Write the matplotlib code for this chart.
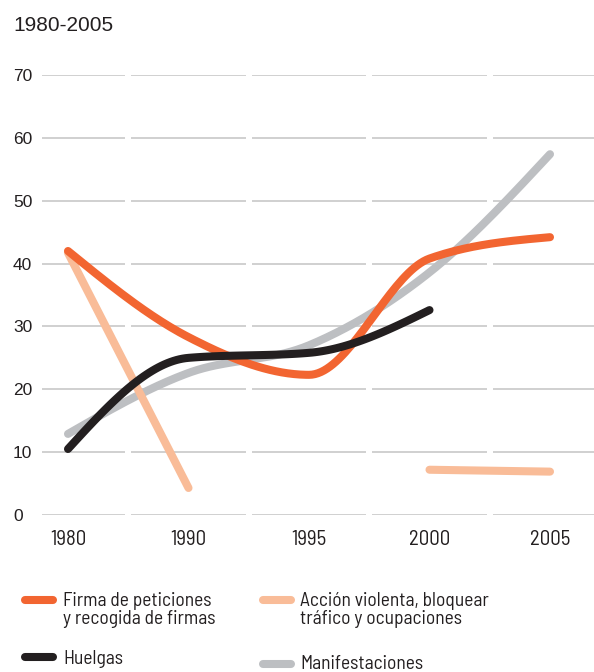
import numpy as np
import matplotlib
matplotlib.use("Agg")
import matplotlib.pyplot as plt
from matplotlib import font_manager
from matplotlib.font_manager import FontProperties
from matplotlib.lines import Line2D

# ---------------- data ----------------
years = ["1980", "1990", "1995", "2000", "2005"]
firma = [42.0, 28.3, 22.3, 40.8, 44.2]
huelgas = [10.5, 25.0, 25.8, 32.6, np.nan]
accion = [41.7, 4.3, np.nan, 7.2, 6.9]
manifestaciones = [12.9, 22.6, 27.0, 38.6, 57.4]
yticks = [0, 10, 20, 30, 40, 50, 60, 70]
title = "1980-2005"
legend_labels = ["Firma de peticiones\ny recogida de firmas", "Huelgas",
                 "Acción violenta, bloquear\ntráfico y ocupaciones", "Manifestaciones"]

# ---------------- style ----------------
C_ORANGE = "#F26531"
C_BLACK = "#231F20"
C_PEACH = "#F9BC98"
C_GRAY = "#BDBFC2"
C_GRID = "#C8C8C8"
C_TEXT = "#231F20"

names = {f.name for f in font_manager.fontManager.ttflist}
REG = "Liberation Sans" if "Liberation Sans" in names else "DejaVu Sans"


def find_condensed():
    cands = []
    for f in font_manager.fontManager.ttflist:
        nm = f.name
        is_narrow = ("Narrow" in nm or "Condensed" in nm or
                     str(f.stretch) in ("condensed", "semi-condensed", "extra-condensed"))
        if not is_narrow:
            continue
        if f.style != "normal":
            continue
        w = f.weight
        if isinstance(w, str):
            w = {"normal": 400, "regular": 400, "book": 400}.get(w.lower(), 700)
        if w != 400:
            continue
        low = f.fname.lower()
        if any(k in low for k in ("bold", "light", "thin", "black", "medium", "italic", "extra", "semibold")):
            continue
        if "Liberation Sans Narrow" in nm:
            score = 5
        elif "semi" in str(f.stretch).lower() or "semicondensed" in low:
            score = 4
        elif "Roboto Condensed" in nm:
            score = 3
        else:
            score = 2
        cands.append((score, f.fname))
    if not cands:
        return None
    cands.sort(key=lambda t: -t[0])
    return cands[0][1]


cond_path = find_condensed()
if cond_path:
    def narrow(size):
        return FontProperties(fname=cond_path, size=size)
    XT_SIZE, LEG_SIZE = 15, 14
else:
    def narrow(size):
        return FontProperties(family="Roboto", size=size)
    XT_SIZE, LEG_SIZE = 12.5, 12.3

W, H = 594, 672
fig = plt.figure(figsize=(W / 100, H / 100), dpi=100)
fig.patch.set_facecolor("white")


def fx(px):
    return px / W


def fy(py):
    return (H - py) / H


ax_left, ax_right, ax_top, ax_bottom = 42, 594, 75, 515
ax = fig.add_axes([fx(ax_left), fy(ax_bottom), (ax_right - ax_left) / W, (ax_bottom - ax_top) / H])
ax.set_facecolor("none")
for s in ax.spines.values():
    s.set_visible(False)

# x scale: category index 0 at px 68, 1 category = 120.5 px
x0_px, step_px = 68, 120.5
ax.set_xlim((ax_left - x0_px) / step_px, (ax_right - x0_px) / step_px)
ax.set_ylim(0, 70)

xs = np.arange(len(years))

# segmented gridlines (gaps between categories)
xmin, xmax = ax.get_xlim()
gap = 0.025
bounds = [xmin] + [i + 0.5 for i in range(len(years) - 1)] + [xmax]
for yv in yticks:
    for i in range(len(bounds) - 1):
        a = bounds[i] + (gap if i > 0 else 0)
        b = bounds[i + 1] - (gap if i < len(bounds) - 2 else 0)
        ax.plot([a, b], [yv, yv], color=C_GRID, lw=1.2, zorder=0, solid_capstyle="butt")


def monotone_curve(x, y, n=40):
    """Render a smooth monotone cubic (d3 curveMonotoneX style) through the points."""
    x = np.asarray(x, float)
    y = np.asarray(y, float)
    m = len(x)
    if m < 3:
        return x, y
    h = np.diff(x)
    s = np.diff(y) / h
    t = np.zeros(m)
    for i in range(1, m - 1):
        p = (s[i - 1] * h[i] + s[i] * h[i - 1]) / (h[i - 1] + h[i])
        t[i] = (np.sign(s[i - 1]) + np.sign(s[i])) * min(abs(s[i - 1]), abs(s[i]), 0.5 * abs(p))
    t[0] = (3 * s[0] - t[1]) / 2
    t[-1] = (3 * s[-1] - t[-2]) / 2
    X, Y = [], []
    for i in range(m - 1):
        u = np.linspace(0, 1, n, endpoint=(i == m - 2))
        h00 = 2 * u**3 - 3 * u**2 + 1
        h10 = u**3 - 2 * u**2 + u
        h01 = -2 * u**3 + 3 * u**2
        h11 = u**3 - u**2
        X.append(x[i] + u * h[i])
        Y.append(h00 * y[i] + h10 * h[i] * t[i] + h01 * y[i + 1] + h11 * h[i] * t[i + 1])
    return np.concatenate(X), np.concatenate(Y)


LW = 5.8


def draw_series(vals, color, z, smooth=True):
    vals = np.asarray(vals, float)
    runs, cur = [], []
    for i, v in enumerate(vals):
        if np.isnan(v):
            if cur:
                runs.append(cur)
            cur = []
        else:
            cur.append(i)
    if cur:
        runs.append(cur)
    for r in runs:
        rx, ry = xs[r], vals[r]
        if smooth:
            rx, ry = monotone_curve(rx, ry)
        ax.plot(rx, ry, color=color, lw=LW, solid_capstyle="round",
                solid_joinstyle="round", zorder=z, clip_on=False)


draw_series(manifestaciones, C_GRAY, 2)
draw_series(accion, C_PEACH, 3, smooth=False)
draw_series(firma, C_ORANGE, 4)
draw_series(huelgas, C_BLACK, 5)

# ticks
ax.set_yticks(yticks)
ax.set_yticklabels([str(v) for v in yticks], fontfamily=REG, fontsize=12.5, color=C_TEXT)
ax.tick_params(axis="y", length=0, pad=(ax_left - 13) * 0.72)
for lab in ax.get_yticklabels():
    lab.set_horizontalalignment("left")

ax.set_xticks(xs)
ax.set_xticklabels(years, fontproperties=narrow(XT_SIZE), color=C_TEXT)
ax.tick_params(axis="x", length=0, pad=11)

# title
fig.text(fx(13), fy(31), title, fontfamily=REG, fontsize=15, color=C_TEXT, va="baseline", ha="left")

# legend (manual, two columns); text baseline given for the last line
leg_items = [
    (legend_labels[0], C_ORANGE, 25, 600, 63, 624),
    (legend_labels[1], C_BLACK, 25, 657, 63, 664),
    (legend_labels[2], C_PEACH, 263, 600, 300, 624),
    (legend_labels[3], C_GRAY, 263, 664, 300, 669),
]
for lab, col, sx, sy, tx, ty in leg_items:
    fig.add_artist(Line2D([fx(sx), fx(sx + 28)], [fy(sy), fy(sy)], transform=fig.transFigure,
                          color=col, lw=LW, solid_capstyle="round"))
    fig.text(fx(tx), fy(ty), lab, fontproperties=narrow(LEG_SIZE), color=C_TEXT,
             va="baseline", ha="left", linespacing=1.0)

fig.savefig("out.png", dpi=100, facecolor="white")
